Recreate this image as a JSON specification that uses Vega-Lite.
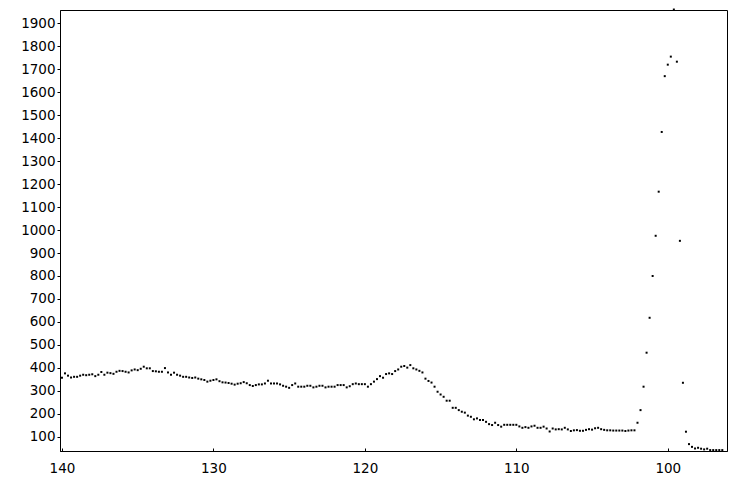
{
  "$schema": "https://vega.github.io/schema/vega-lite/v6.json",
  "width": 667,
  "height": 441,
  "autosize": "none",
  "padding": {"left": 60, "top": 10, "right": 9, "bottom": 28},
  "background": "white",
  "config": {
    "view": {"stroke": "black", "strokeWidth": 1},
    "axis": {
      "domainColor": "black",
      "tickColor": "black",
      "labelColor": "black",
      "labelFont": "DejaVu Sans",
      "labelFontSize": 13.5,
      "grid": false,
      "title": null
    }
  },
  "data": {"values": [
    {"x":140.0,"y":357},{"x":139.8,"y":376},{"x":139.6,"y":366},{"x":139.4,"y":358},{"x":139.2,"y":361},
    {"x":139.0,"y":361},{"x":138.8,"y":366},{"x":138.6,"y":370},{"x":138.4,"y":368},{"x":138.2,"y":370},
    {"x":138.0,"y":372},{"x":137.8,"y":364},{"x":137.6,"y":370},{"x":137.4,"y":382},{"x":137.2,"y":370},
    {"x":137.0,"y":379},{"x":136.8,"y":377},{"x":136.6,"y":374},{"x":136.4,"y":383},{"x":136.2,"y":387},
    {"x":136.0,"y":386},{"x":135.8,"y":383},{"x":135.6,"y":380},{"x":135.4,"y":389},{"x":135.2,"y":393},
    {"x":135.0,"y":390},{"x":134.8,"y":396},{"x":134.6,"y":405},{"x":134.4,"y":398},{"x":134.2,"y":398},
    {"x":134.0,"y":386},{"x":133.8,"y":385},{"x":133.6,"y":383},{"x":133.4,"y":383},{"x":133.2,"y":399},
    {"x":133.0,"y":380},{"x":132.8,"y":370},{"x":132.6,"y":379},{"x":132.4,"y":370},{"x":132.2,"y":366},
    {"x":132.0,"y":361},{"x":131.8,"y":361},{"x":131.6,"y":358},{"x":131.4,"y":356},{"x":131.2,"y":358},
    {"x":131.0,"y":353},{"x":130.8,"y":350},{"x":130.6,"y":347},{"x":130.4,"y":340},{"x":130.2,"y":344},
    {"x":130.0,"y":347},{"x":129.8,"y":350},{"x":129.6,"y":342},{"x":129.4,"y":337},{"x":129.2,"y":336},
    {"x":129.0,"y":334},{"x":128.8,"y":331},{"x":128.6,"y":327},{"x":128.4,"y":331},{"x":128.2,"y":333},
    {"x":128.0,"y":338},{"x":127.8,"y":333},{"x":127.6,"y":325},{"x":127.4,"y":321},{"x":127.2,"y":325},
    {"x":127.0,"y":328},{"x":126.8,"y":328},{"x":126.6,"y":332},{"x":126.4,"y":344},{"x":126.2,"y":332},
    {"x":126.0,"y":332},{"x":125.8,"y":332},{"x":125.6,"y":328},{"x":125.4,"y":322},{"x":125.2,"y":318},
    {"x":125.0,"y":313},{"x":124.8,"y":325},{"x":124.6,"y":332},{"x":124.4,"y":318},{"x":124.2,"y":318},
    {"x":124.0,"y":318},{"x":123.8,"y":322},{"x":123.6,"y":322},{"x":123.4,"y":315},{"x":123.2,"y":318},
    {"x":123.0,"y":322},{"x":122.8,"y":322},{"x":122.6,"y":315},{"x":122.4,"y":318},{"x":122.2,"y":318},
    {"x":122.0,"y":318},{"x":121.8,"y":325},{"x":121.6,"y":325},{"x":121.4,"y":325},{"x":121.2,"y":315},
    {"x":121.0,"y":320},{"x":120.8,"y":329},{"x":120.6,"y":332},{"x":120.4,"y":329},{"x":120.2,"y":329},
    {"x":120.0,"y":329},{"x":119.8,"y":318},{"x":119.6,"y":329},{"x":119.4,"y":340},{"x":119.2,"y":351},
    {"x":119.0,"y":364},{"x":118.8,"y":357},{"x":118.6,"y":373},{"x":118.4,"y":376},{"x":118.2,"y":373},
    {"x":118.0,"y":386},{"x":117.8,"y":393},{"x":117.6,"y":405},{"x":117.4,"y":408},{"x":117.2,"y":401},
    {"x":117.0,"y":412},{"x":116.8,"y":398},{"x":116.6,"y":393},{"x":116.4,"y":387},{"x":116.2,"y":380},
    {"x":116.0,"y":353},{"x":115.8,"y":343},{"x":115.6,"y":336},{"x":115.4,"y":318},{"x":115.2,"y":296},
    {"x":115.0,"y":284},{"x":114.8,"y":274},{"x":114.6,"y":257},{"x":114.4,"y":257},{"x":114.2,"y":226},
    {"x":114.0,"y":226},{"x":113.8,"y":216},{"x":113.6,"y":209},{"x":113.4,"y":205},{"x":113.2,"y":192},
    {"x":113.0,"y":187},{"x":112.8,"y":176},{"x":112.6,"y":180},{"x":112.4,"y":173},{"x":112.2,"y":173},
    {"x":112.0,"y":165},{"x":111.8,"y":155},{"x":111.6,"y":151},{"x":111.4,"y":161},{"x":111.2,"y":151},
    {"x":111.0,"y":144},{"x":110.8,"y":152},{"x":110.6,"y":152},{"x":110.4,"y":152},{"x":110.2,"y":152},
    {"x":110.0,"y":152},{"x":109.8,"y":145},{"x":109.6,"y":139},{"x":109.4,"y":142},{"x":109.2,"y":139},
    {"x":109.0,"y":145},{"x":108.8,"y":148},{"x":108.6,"y":139},{"x":108.4,"y":139},{"x":108.2,"y":144},
    {"x":108.0,"y":136},{"x":107.8,"y":123},{"x":107.6,"y":136},{"x":107.4,"y":132},{"x":107.2,"y":133},
    {"x":107.0,"y":132},{"x":106.8,"y":139},{"x":106.6,"y":132},{"x":106.4,"y":125},{"x":106.2,"y":128},
    {"x":106.0,"y":129},{"x":105.8,"y":126},{"x":105.6,"y":126},{"x":105.4,"y":130},{"x":105.2,"y":133},
    {"x":105.0,"y":131},{"x":104.8,"y":137},{"x":104.6,"y":139},{"x":104.4,"y":133},{"x":104.2,"y":130},
    {"x":104.0,"y":128},{"x":103.8,"y":128},{"x":103.6,"y":127},{"x":103.4,"y":127},{"x":103.2,"y":127},
    {"x":103.0,"y":127},{"x":102.8,"y":125},{"x":102.6,"y":127},{"x":102.4,"y":128},{"x":102.2,"y":128},
    {"x":102.0,"y":161},{"x":101.8,"y":216},{"x":101.6,"y":318},{"x":101.4,"y":466},{"x":101.2,"y":618},
    {"x":101.0,"y":800},{"x":100.8,"y":975},{"x":100.6,"y":1167},{"x":100.4,"y":1427},{"x":100.2,"y":1670},
    {"x":100.0,"y":1720},{"x":99.8,"y":1755},{"x":99.6,"y":1960},{"x":99.4,"y":1733},{"x":99.2,"y":953},
    {"x":99.0,"y":335},{"x":98.8,"y":122},{"x":98.6,"y":68},{"x":98.4,"y":56},{"x":98.2,"y":49},
    {"x":98.0,"y":52},{"x":97.8,"y":48},{"x":97.6,"y":45},{"x":97.4,"y":48},{"x":97.2,"y":42},
    {"x":97.0,"y":42},{"x":96.8,"y":42},{"x":96.6,"y":42},{"x":96.4,"y":42}
  ]},
  "mark": {"type": "square", "size": 4, "color": "black", "opacity": 1, "filled": true},
  "encoding": {
    "x": {
      "field": "x",
      "type": "quantitative",
      "scale": {"domain": [96.09, 140.13], "reverse": true, "nice": false, "zero": false},
      "axis": {"orient": "bottom", "values": [100, 110, 120, 130, 140], "format": "d", "tickSize": -3, "labelPadding": 13, "domain": true}
    },
    "y": {
      "field": "y",
      "type": "quantitative",
      "scale": {"domain": [38, 1958], "nice": false, "zero": false},
      "axis": {"orient": "left", "format": "d", "values": [100,200,300,400,500,600,700,800,900,1000,1100,1200,1300,1400,1500,1600,1700,1800,1900], "tickSize": 3, "labelPadding": 2}
    }
  }
}
